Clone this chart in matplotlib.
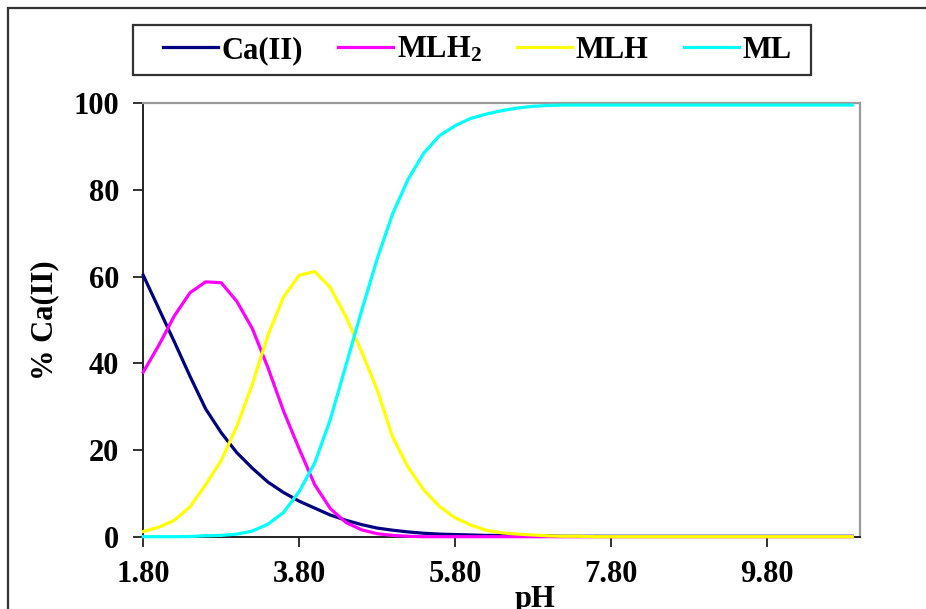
import numpy as np
import matplotlib
matplotlib.use("Agg")
import matplotlib.pyplot as plt
from matplotlib.patches import Rectangle

plt.rcParams["font.family"] = ["Liberation Serif", "DejaVu Serif"]
plt.rcParams["font.weight"] = "bold"
plt.rcParams["mathtext.fontset"] = "custom"
plt.rcParams["mathtext.rm"] = "Liberation Serif:bold"
plt.rcParams["mathtext.default"] = "rm"

# pH grid (0.2 steps) with a final point at 10.9
ph = np.append(np.round(np.arange(1.8, 10.81, 0.2), 1), 10.9)

ca_free = [60.3, 52.6, 44.9, 37.0, 29.5, 24.0, 19.4, 15.8, 12.6, 10.2,
           8.2, 6.6, 5.0, 3.8, 2.8, 2.0, 1.5, 1.1, 0.8, 0.6,
           0.5, 0.4, 0.3, 0.3, 0.2, 0.2, 0.2] + [0.1] * 20
mlh2 = [38.0, 44.2, 51.0, 56.3, 58.8, 58.6, 54.3, 48.0, 39.0, 29.0,
        20.3, 12.0, 6.5, 3.3, 1.6, 0.7, 0.3, 0.1] + [0.0] * 29
mlh = [1.2, 2.2, 3.8, 6.9, 12.0, 17.6, 25.4, 35.2, 46.5, 55.3,
       60.3, 61.2, 57.5, 50.8, 42.8, 34.0, 23.0, 16.0, 10.8, 7.0,
       4.4, 2.7, 1.5, 0.9, 0.6, 0.4, 0.2, 0.1, 0.1] + [0.0] * 18
ml = [0.0, 0.0, 0.0, 0.05, 0.2, 0.3, 0.6, 1.3, 2.9, 5.6,
      10.4, 17.0, 27.0, 39.5, 52.0, 64.0, 74.5, 82.5, 88.5, 92.5,
      94.8, 96.5, 97.5, 98.3, 98.9, 99.3, 99.5] + [99.6] * 20

series = [("Ca(II)", ca_free, "#000080"),
          ("MLH$_2$", mlh2, "#FF00FF"),
          ("MLH", mlh, "#FFFF00"),
          ("ML", ml, "#00FFFF")]

xticks = [1.8, 3.8, 5.8, 7.8, 9.8]
xtick_labels = ["1.80", "3.80", "5.80", "7.80", "9.80"]
yticks = [0, 20, 40, 60, 80, 100]

W, H = 926, 609
fig = plt.figure(figsize=(W / 100, H / 100), dpi=100)
fig.patch.set_facecolor("white")

ax = fig.add_axes([143.3 / W, 1 - 536.7 / H, (860 - 143.3) / W, (536.7 - 103.3) / H])

handles = []
for name, vals, col in series:
    ln, = ax.plot(ph, vals, color=col, lw=2.3, label=name, zorder=3, clip_on=False)
    handles.append(ln)

ax.set_xlim(1.8, 11.0)
ax.set_ylim(0, 100)
ax.set_xticks(xticks)
ax.set_xticklabels(xtick_labels)
ax.set_yticks(yticks)
ax.tick_params(axis="both", direction="out", length=7.5, width=1.3, color="#222222",
               labelsize=22, pad=9)
ax.tick_params(axis="y", pad=10)

for side in ("left", "bottom"):
    ax.spines[side].set_color("#222222")
    ax.spines[side].set_linewidth(1.4)
for side in ("top", "right"):
    ax.spines[side].set_color("#9a9a9a")
    ax.spines[side].set_linewidth(1.6)

fig.text(45 / W, 1 - 320 / H, "% Ca(II)", rotation=90, ha="center", va="center",
         fontsize=22, fontweight="bold")
fig.text(535 / W, 2 / H, "pH", ha="center", va="baseline", fontsize=22, fontweight="bold")

# legend entries without their own frame; the box is drawn separately
leg = fig.legend(handles=handles, loc="center left", ncol=4,
                 bbox_to_anchor=(163 / W, 1 - 50 / H),
                 bbox_transform=fig.transFigure,
                 fontsize=22, frameon=False, handlelength=1.8,
                 handletextpad=0.12, columnspacing=1.15, borderpad=0.0,
                 borderaxespad=0.0)
for t in leg.get_texts():
    t.set_fontweight("bold")
fig.add_artist(Rectangle((133 / W, 1 - 75 / H), (811 - 133) / W, 50 / H,
                         transform=fig.transFigure, fill=False, ec="#333333", lw=1.6))

# outer chart frame (extends past the right and bottom edges)
fig.add_artist(Rectangle((8.3 / W, -0.2), 1.5, 1.2 - 8.3 / H, transform=fig.transFigure,
                         fill=False, ec="#333333", lw=1.6, clip_on=False))

fig.savefig("out.png", dpi=100, facecolor="white")
